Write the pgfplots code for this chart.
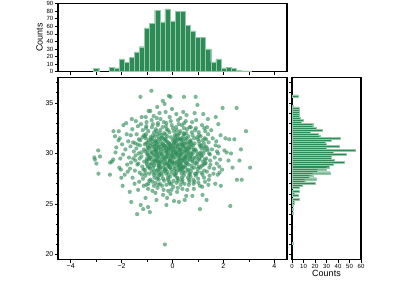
\documentclass[border=0pt]{standalone}
\usepackage{fontspec}
\setmainfont{Liberation Sans}
\usepackage{pgfplots}
\pgfplotsset{compat=1.18}
\definecolor{seagreen}{RGB}{46,139,87}
\definecolor{baredge}{RGB}{150,200,170}
\pgfplotsset{
  jstyle/.style={
    scale only axis,
    axis line style={line width=1.1pt},
    tick align=outside,
    major tick length=3pt,
    minor tick length=2pt,
    every tick/.style={black, line width=0.6pt},
    xtick pos=bottom, ytick pos=left,
    /pgf/number format/assume math mode=true,
    ticklabel style={font=\fontsize{6}{7}\selectfont},
    xticklabel style={inner sep=1pt},
    yticklabel style={inner sep=1.5pt},
    label style={font=\fontsize{9}{10}\selectfont, inner sep=0pt},
  }
}
\begin{document}
\begin{tikzpicture}
\path (0pt,0pt) rectangle (400pt,280pt);
% main scatter
\begin{axis}[jstyle, at={(58pt,21pt)}, anchor=south west, width=229pt, height=182pt,
  xmin=-4.5, xmax=4.5, ymin=19.5, ymax=37.5,
  xtick={-4,-2,0,2,4}, xticklabels={−4,−2,0,2,4}, minor xtick={-3,-1,1,3},
  ytick={20,25,30,35}, minor ytick={20,...,37},
  ticklabel style={font=\fontsize{7}{8}\selectfont}]
\addplot[only marks, mark=*, mark size=2.1pt, mark options={draw=seagreen, fill=seagreen, draw opacity=0, fill opacity=0.62}] coordinates {
(-3.07,29.6) (-3.05,29.4) (-2.92,30.3) (-2.99,29.0) (-2.91,28.0) (-2.85,29.7)
(-2.45,29.1) (-2.38,29.2) (-2.46,27.9) (-2.33,29.4)
(-2.32,32.2) (-2.26,31.7) (-2.21,30.6) (-2.24,30.1)
(-2.12,31.3) (-2.11,32.2) (-2.09,28.6) (-2.03,28.4) (-1.96,26.8) (-1.98,30.9) (-2.05,29.5) (-1.93,32.8) (-2.01,27.6) (-1.94,29.9) (-2.07,31.5)
(-1.85,30.4) (-1.78,28.9) (-1.82,33.0) (-1.74,31.2) (-1.88,27.9) (-1.71,29.6) (-1.80,31.9) (-1.76,28.2)
(-1.68,26.2) (-1.62,25.2) (-1.65,30.7) (-1.58,32.4) (-1.63,29.1) (-1.55,31.1) (-1.67,28.5) (-1.52,30.2) (-1.60,33.4) (-1.57,27.6) (-1.64,31.8) (-1.54,29.5)
(-1.39,24.0) (-1.45,29.8) (-1.32,31.4) (-1.48,28.3) (-1.36,32.7) (-1.42,30.5) (-1.31,27.2) (-1.47,31.0) (-1.34,29.0) (-1.44,33.2) (-1.38,28.9) (-1.33,30.0) (-1.49,27.0) (-1.41,31.9) (-1.35,26.4) (-1.46,29.3) (-1.37,30.9)
(-1.26,35.6) (-1.25,24.9) (-1.15,24.5) (-1.22,29.7) (-1.18,31.6) (-1.29,28.1) (-1.12,30.4) (-1.24,32.9) (-1.16,27.5) (-1.28,30.8) (-1.11,29.2) (-1.21,33.6) (-1.19,28.7) (-1.27,31.3) (-1.13,26.8) (-1.23,30.1) (-1.17,32.3) (-1.14,28.4) (-1.29,29.5) (-1.20,27.9) (-1.12,31.8)
(-1.08,30.2) (-0.97,28.7) (-1.05,31.5) (-0.93,29.4) (-1.02,33.1) (-0.91,27.3) (-1.09,30.9) (-0.99,29.9) (-0.95,32.2) (-1.06,28.1) (-0.96,26.5) (-1.03,31.0) (-0.92,30.5) (-1.01,29.1) (-0.94,34.2) (-1.07,27.8) (-0.98,30.0) (-1.04,31.9) (-1.00,28.9) (-0.90,29.6) (-1.03,32.7) (-1.06,25.6) (-0.97,30.7) (-1.09,28.4) (-0.93,31.3) (-1.01,29.3) (-0.95,27.0) (-1.05,33.6) (-0.99,30.3) (-0.91,28.6) (-1.08,31.7) (-0.94,29.8) (-1.02,26.9) (-0.96,30.6) (-1.04,32.5) (-0.92,28.0) (-1.00,29.5) (-0.98,31.1)
(-0.83,36.2) (-0.87,34.2) (-0.89,24.2) (-0.96,24.7) (-0.78,30.1) (-0.72,28.3) (-0.85,31.4) (-0.75,29.2) (-0.81,32.6) (-0.71,27.6) (-0.88,30.8) (-0.76,29.7) (-0.82,33.3) (-0.73,28.8) (-0.86,31.0) (-0.79,26.3) (-0.70,30.4) (-0.84,29.0) (-0.77,31.8) (-0.74,27.9) (-0.80,30.6) (-0.88,28.5) (-0.72,32.1) (-0.83,29.4) (-0.75,30.9) (-0.79,27.2) (-0.86,31.6) (-0.71,29.9) (-0.81,28.2) (-0.77,32.9) (-0.84,30.2) (-0.73,26.8) (-0.89,29.6) (-0.78,31.2) (-0.76,28.6) (-0.82,30.0) (-0.74,33.7) (-0.87,27.4) (-0.70,29.3) (-0.80,31.5) (-0.85,28.9) (-0.72,30.7)
(-0.60,34.6) (-0.51,34.0) (-0.63,25.4) (-0.68,30.3) (-0.55,28.7) (-0.64,31.2) (-0.52,29.5) (-0.66,32.4) (-0.57,27.7) (-0.61,30.8) (-0.54,29.1) (-0.69,31.7) (-0.58,28.4) (-0.62,30.0) (-0.50,32.0) (-0.67,27.1) (-0.56,30.5) (-0.65,29.8) (-0.53,31.4) (-0.59,26.6) (-0.63,29.3) (-0.51,30.9) (-0.68,28.0) (-0.57,33.0) (-0.60,29.6) (-0.54,27.4) (-0.66,31.0) (-0.52,28.9) (-0.64,30.2) (-0.58,32.8) (-0.69,29.0) (-0.55,31.6) (-0.61,28.3) (-0.53,30.6) (-0.67,26.1) (-0.56,29.7) (-0.62,33.5) (-0.50,28.6) (-0.65,30.4) (-0.59,31.9) (-0.52,27.9) (-0.66,29.4) (-0.57,30.1) (-0.63,32.2) (-0.54,28.8) (-0.68,31.3) (-0.60,27.5) (-0.51,29.9) (-0.64,30.7) (-0.56,26.9) (-0.61,31.1) (-0.58,29.2) (-0.53,28.1)
(-0.38,35.2) (-0.31,34.9) (-0.30,21.0) (-0.45,30.2) (-0.35,28.6) (-0.42,31.5) (-0.33,29.3) (-0.48,32.3) (-0.37,27.5) (-0.44,30.7) (-0.32,29.0) (-0.47,31.2) (-0.36,28.2) (-0.41,30.0) (-0.34,33.1) (-0.49,27.0) (-0.39,29.7) (-0.43,31.8) (-0.31,28.9) (-0.46,30.4) (-0.35,26.4) (-0.40,29.4) (-0.33,32.0) (-0.48,28.4) (-0.37,30.9) (-0.44,29.1) (-0.32,31.4) (-0.42,27.8) (-0.36,30.5) (-0.47,33.4) (-0.34,29.6) (-0.45,28.0) (-0.38,31.0) (-0.41,26.8) (-0.30,30.3) (-0.43,29.9) (-0.39,32.6) (-0.46,28.7) (-0.35,30.8) (-0.49,29.2) (-0.33,27.3) (-0.40,31.6) (-0.37,25.9)
(-0.14,35.7) (-0.21,25.6) (-0.25,30.1) (-0.16,28.8) (-0.28,31.3) (-0.12,29.5) (-0.23,32.4) (-0.18,27.6) (-0.27,30.6) (-0.11,29.2) (-0.20,31.7) (-0.29,28.3) (-0.15,30.3) (-0.24,33.0) (-0.13,27.2) (-0.26,29.8) (-0.19,31.1) (-0.10,28.6) (-0.22,30.8) (-0.17,26.3) (-0.28,29.4) (-0.12,32.1) (-0.25,28.0) (-0.14,30.5) (-0.21,29.0) (-0.27,31.5) (-0.16,27.9) (-0.23,30.2) (-0.11,33.6) (-0.19,29.7) (-0.29,28.5) (-0.13,31.0) (-0.24,26.9) (-0.18,30.0) (-0.26,32.7) (-0.15,28.9) (-0.22,30.4) (-0.10,29.3) (-0.28,31.9) (-0.17,27.4) (-0.25,29.6) (-0.12,30.9) (-0.20,28.2) (-0.27,34.1) (-0.14,29.9) (-0.23,31.2) (-0.16,28.7) (-0.29,30.7) (-0.11,27.0) (-0.21,29.1) (-0.18,32.3) (-0.26,28.4) (-0.13,30.6) (-0.24,24.9)
(-0.08,35.6) (0.06,25.3) (-0.08,26.0) (0.05,30.3) (-0.04,28.9) (0.08,31.4) (-0.06,29.6) (0.02,32.5) (-0.09,27.7) (0.03,30.8) (-0.01,29.1) (0.09,31.8) (-0.05,28.4) (0.01,30.1) (-0.07,33.2) (0.04,27.3) (-0.02,29.8) (0.07,31.1) (-0.03,28.1) (0.00,30.6) (-0.09,29.3) (0.06,32.2) (-0.04,27.0) (0.02,30.4) (-0.06,31.6) (0.08,28.7) (-0.01,29.9) (0.03,26.7) (-0.07,30.9) (0.05,29.0) (-0.03,32.8) (0.09,28.3) (-0.05,30.2) (0.01,31.3) (-0.08,28.6) (0.04,29.5) (-0.02,34.4) (0.07,27.9) (-0.06,30.7) (0.00,29.2) (0.06,31.0) (-0.04,26.4) (0.02,29.7) (-0.09,30.5)
(0.25,25.2) (0.14,30.2) (0.23,28.8) (0.11,31.6) (0.28,29.4) (0.17,32.3) (0.20,27.5) (0.13,30.7) (0.26,29.0) (0.19,31.3) (0.29,28.3) (0.12,30.0) (0.22,33.3) (0.16,27.1) (0.27,29.7) (0.15,31.0) (0.24,28.6) (0.10,30.5) (0.21,26.6) (0.18,29.2) (0.28,32.0) (0.13,28.0) (0.25,30.4) (0.16,29.9) (0.22,31.8) (0.11,27.8) (0.27,30.9) (0.19,28.9) (0.14,32.6) (0.29,29.5) (0.17,30.1) (0.23,27.3) (0.12,31.2) (0.26,28.4) (0.20,30.6) (0.15,33.9) (0.24,29.3) (0.10,28.5) (0.21,31.5) (0.18,26.2) (0.28,30.3) (0.13,29.6) (0.25,32.9) (0.16,28.2) (0.22,30.8) (0.11,29.1) (0.27,31.4) (0.19,27.6) (0.14,30.0) (0.29,28.7) (0.17,31.9) (0.23,29.8)
(0.45,35.6) (0.48,25.4) (0.33,30.4) (0.41,28.7) (0.36,31.5) (0.47,29.2) (0.31,32.2) (0.44,27.8) (0.38,30.9) (0.49,29.6) (0.35,31.1) (0.42,28.2) (0.30,30.1) (0.46,33.0) (0.39,27.4) (0.34,29.8) (0.43,31.7) (0.37,28.5) (0.48,30.6) (0.32,26.9) (0.40,29.4) (0.45,32.5) (0.36,28.0) (0.49,30.3) (0.33,29.0) (0.41,31.3) (0.38,27.2) (0.47,30.0) (0.31,33.5) (0.44,29.5) (0.35,28.4) (0.42,30.7) (0.39,26.5) (0.30,29.9) (0.46,31.9) (0.34,28.8) (0.43,30.2) (0.37,32.8) (0.48,28.1) (0.32,30.5) (0.40,29.3) (0.45,31.0) (0.36,27.6) (0.49,29.7) (0.33,31.4) (0.41,28.6) (0.38,30.8) (0.47,27.0) (0.31,29.1) (0.44,32.0) (0.35,30.0) (0.42,34.1)
(0.55,30.3) (0.63,28.9) (0.51,31.4) (0.68,29.4) (0.57,32.4) (0.61,27.6) (0.66,30.7) (0.53,29.1) (0.69,31.2) (0.59,28.3) (0.64,30.0) (0.52,33.2) (0.67,27.2) (0.56,29.7) (0.62,31.7) (0.50,28.6) (0.65,30.5) (0.58,26.4) (0.60,29.3) (0.54,32.0) (0.68,28.0) (0.63,30.9) (0.57,29.0) (0.51,31.0) (0.66,27.9) (0.59,30.2) (0.55,33.8) (0.69,29.6) (0.62,28.4) (0.53,30.6) (0.64,26.9) (0.58,29.9) (0.67,32.6) (0.50,28.8) (0.61,30.4) (0.56,31.5) (0.65,27.4) (0.52,29.5) (0.60,31.1) (0.54,25.8)
(0.78,25.8) (0.73,30.1) (0.85,28.6) (0.71,31.3) (0.88,29.5) (0.76,32.1) (0.82,27.4) (0.74,30.6) (0.89,29.0) (0.79,31.8) (0.72,28.2) (0.86,30.3) (0.77,33.1) (0.83,27.0) (0.70,29.7) (0.87,31.0) (0.75,28.8) (0.81,30.8) (0.84,26.5) (0.78,29.3) (0.72,32.6) (0.88,28.0) (0.80,30.0) (0.74,29.9) (0.85,31.5) (0.71,27.7) (0.83,30.4) (0.76,28.5) (0.89,32.3) (0.79,29.2) (0.73,31.1) (0.86,27.2) (0.81,29.6) (0.75,30.9) (0.87,34.0)
(0.91,35.6) (0.98,34.8) (1.08,24.5) (0.94,30.2) (1.03,28.7) (0.97,31.6) (1.06,29.4) (0.92,32.5) (1.01,27.5) (1.09,30.7) (0.95,29.0) (1.04,31.2) (0.99,28.2) (1.07,30.0) (0.93,33.3) (1.02,27.1) (0.96,29.7) (1.05,31.8) (1.00,28.5) (0.90,30.4) (1.08,26.8) (0.97,29.2) (1.03,32.1) (0.94,28.0) (1.06,30.9) (0.99,29.9) (1.01,31.4) (0.92,27.8) (1.04,29.5)
(1.18,25.9) (1.14,30.5) (1.22,28.9) (1.11,31.7) (1.27,29.4) (1.16,32.8) (1.24,27.6) (1.12,30.1) (1.29,29.0) (1.19,31.3) (1.25,28.3) (1.13,30.8) (1.21,33.9) (1.28,27.2) (1.15,29.7) (1.23,31.0) (1.10,28.6) (1.26,30.3) (1.17,26.7) (1.20,29.2) (1.29,32.2) (1.14,28.1) (1.24,30.6) (1.12,29.8) (1.27,31.5) (1.18,27.9) (1.22,30.0) (1.16,28.8) (1.25,32.5)
(1.34,25.4) (1.38,30.3) (1.45,28.6) (1.32,31.4) (1.48,29.3) (1.36,32.6) (1.43,27.4) (1.31,30.7) (1.47,29.9) (1.40,31.9) (1.35,28.2) (1.44,30.0) (1.39,33.4) (1.46,27.8) (1.33,29.5) (1.42,31.1) (1.49,28.9) (1.37,30.5) (1.41,26.9) (1.30,29.1)
(1.68,27.0) (1.70,33.6) (1.55,30.4) (1.63,28.5) (1.58,31.5) (1.66,29.6) (1.52,32.3) (1.61,28.0) (1.69,30.8)
(1.80,32.9) (1.90,26.8) (1.75,30.2) (1.84,28.7) (1.72,31.2) (1.87,29.4) (1.78,27.9) (1.82,30.7) (1.89,31.8) (1.74,29.0) (1.85,28.1) (1.79,30.0)
(1.97,34.5) (2.04,30.3) (1.95,28.4) (2.08,31.5)
(2.23,31.4) (2.27,24.8) (2.30,30.0) (2.20,29.3) (2.13,30.1)
(2.43,31.4) (2.36,28.6) (2.52,34.5)
(2.63,29.3) (2.69,30.4) (2.53,27.4) (2.72,27.4)
(2.89,32.2) (3.05,28.6)
};
\end{axis}
% top histogram
\begin{axis}[jstyle, at={(58pt,209pt)}, anchor=south west, width=229pt, height=68pt,
  xmin=-4.5, xmax=4.5, ymin=0, ymax=90,
  xtick={-4,...,4}, xticklabels={}, ytick={0,10,...,90},
  ylabel={Counts}, ylabel style={at={(axis description cs:-0.066,0.5)}, anchor=south}]
\addplot[ybar, bar width=0.2, bar shift=0pt, fill=seagreen, draw=baredge, line width=0.3pt] coordinates {
(-3.0,4) (-2.4,6) (-2.2,5) (-2.0,17) (-1.8,12) (-1.6,19) (-1.4,26) (-1.2,33) (-1.0,58) (-0.8,64) (-0.6,81) (-0.4,66) (-0.2,83) (0.0,67) (0.2,80) (0.4,80) (0.6,61) (0.8,54) (1.0,45) (1.2,45) (1.4,30) (1.6,13) (1.8,17) (2.0,5) (2.2,6) (2.4,4) (2.6,2) (2.8,1) (3.0,1)
};
\end{axis}
% right histogram
\begin{axis}[jstyle, at={(292pt,21pt)}, anchor=south west, width=69pt, height=182pt,
  xmin=0, xmax=60, ymin=19.5, ymax=37.5,
  xtick={0,10,...,60}, ytick={20,...,37}, yticklabels={},
  xlabel={Counts}, xlabel style={at={(axis description cs:0.5,-0.058)}, anchor=north}]
\addplot[xbar, bar width=0.2, bar shift=0pt, fill=seagreen, draw=baredge, line width=0.2pt] coordinates {
(5,35.7) (1,34.7) (6,34.5) (6,34.3) (6,34.1) (6,33.9) (6,33.7) (7,33.5) (10,33.3) (8,33.1) (18,32.9) (18,32.7) (21,32.5) (26,32.3) (16,32.1) (23,31.9) (24,31.7) (42,31.5) (34,31.3) (29,31.1) (30,30.9) (41,30.7) (30,30.5) (55,30.3) (36,30.1) (47,29.9) (34,29.7) (34,29.5) (37,29.3) (45,29.1) (36,28.9) (32,28.7) (30,28.5) (22,28.3) (33,28.1) (18,27.9) (15,27.7) (21,27.5) (11,27.3) (20,27.1) (9,26.9) (6,26.7) (6,26.3) (2,26.1) (5,25.9) (6,25.5) (2,25.3) (2,25.1) (1,24.9) (1,24.5) (1,24.1) (1,21.1)
};
\end{axis}
\end{tikzpicture}
\end{document}
